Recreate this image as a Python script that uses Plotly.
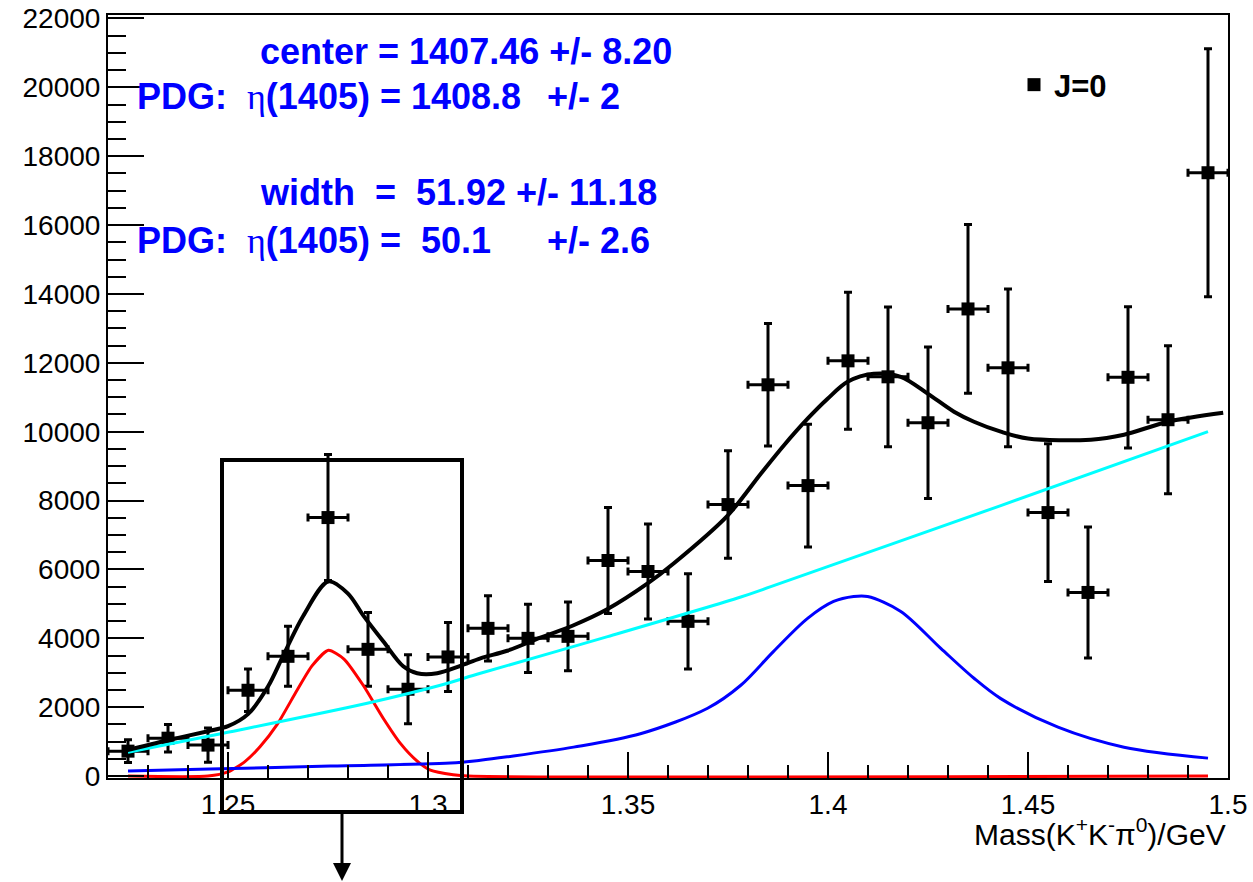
import plotly.graph_objects as go

# ---------------- data ----------------
bin_centers = [1.225, 1.235, 1.245, 1.255, 1.265, 1.275, 1.285, 1.295, 1.305, 1.315,
               1.325, 1.335, 1.345, 1.355, 1.365, 1.375, 1.385, 1.395, 1.405, 1.415,
               1.425, 1.435, 1.445, 1.455, 1.465, 1.475, 1.485, 1.495]
counts = [725, 1101, 900, 2493, 3478, 7507, 3681, 2522, 3460, 4290,
          4000, 4058, 6261, 5942, 4493, 7884, 11362, 8435, 12058, 11594,
          10261, 13565, 11855, 7652, 5333, 11580, 10348, 17520]
count_errors = [330, 400, 500, 620, 870, 1830, 1070, 1000, 1000, 950,
                990, 1000, 1540, 1380, 1380, 1560, 1780, 1780, 1990, 2030,
                2200, 2450, 2290, 2000, 1900, 2050, 2150, 3600]
bin_half_width = [0.005] * len(bin_centers)

total_x = [1.2238, 1.2350, 1.2450, 1.2500, 1.2550, 1.2600, 1.2638, 1.2688, 1.2751, 1.2800,
           1.2838, 1.2888, 1.2938, 1.2973, 1.3023, 1.3081, 1.3131, 1.3198, 1.3281, 1.3364,
           1.3449, 1.3549, 1.3614, 1.3749, 1.3832, 1.3889, 1.3949, 1.3999, 1.4049, 1.4114,
           1.4182, 1.4250, 1.4315, 1.4365, 1.4432, 1.4500, 1.4657, 1.4740, 1.4850, 1.4988]
total_y = [725, 1043, 1304, 1450, 1800, 2600, 3500, 4650, 5652, 5300,
           4667, 3913, 3188, 2986, 2986, 3200, 3420, 3640, 4020, 4380,
           4850, 5594, 6174, 7565, 8780, 9594, 10377, 10957, 11449, 11681,
           11594, 11101, 10580, 10290, 10000, 9800, 9768, 9913, 10290, 10551]

bkg_x = [1.225, 1.2488, 1.2848, 1.3031, 1.3131, 1.3449, 1.3782, 1.3857, 1.4432, 1.495]
bkg_y = [690, 1246, 2116, 2638, 2986, 4050, 5200, 5500, 7855, 10000]

eta_x = [1.225, 1.2455, 1.2756, 1.3056, 1.3131, 1.3198, 1.3364, 1.3531, 1.3699, 1.3782,
         1.3864, 1.3949, 1.4014, 1.4064, 1.4099, 1.4182, 1.4282, 1.4365, 1.4432, 1.4575,
         1.4740, 1.495]
eta_y = [150, 203, 290, 377, 460, 560, 841, 1230, 1971, 2638,
         3623, 4580, 5072, 5217, 5217, 4783, 3710, 2841, 2250, 1420,
         840, 522]

f1285_x = [1.225, 1.2450, 1.2500, 1.2540, 1.2580, 1.2623, 1.2673, 1.2710, 1.2751, 1.2790,
           1.2838, 1.2888, 1.2931, 1.2973, 1.3006, 1.3063, 1.3100, 1.495]
f1285_y = [0, 0, 120, 400, 850, 1500, 2500, 3200, 3652, 3400,
           2638, 1681, 950, 435, 174, 40, 0, 0]

x_range = [1.22, 1.5]
y_range = [-55, 22100]
x_tickvals = [1.25, 1.3, 1.35, 1.4, 1.45, 1.5]
x_ticktext = ["1.25", "1.3", "1.35", "1.4", "1.45", "1.5"]
y_tickvals = list(range(0, 22001, 2000))
y_ticktext = [str(v) for v in y_tickvals]

# ---------------- figure ----------------
FONT = "Liberation Sans, Arial, Helvetica, sans-serif"
fig = go.Figure()

fig.add_trace(go.Scatter(
    x=bin_centers, y=counts, mode="markers", name="<b>J=0</b>",
    marker=dict(symbol="square", size=13, color="black"),
    error_y=dict(type="data", array=count_errors, color="black", thickness=3, width=4),
    error_x=dict(type="data", array=bin_half_width, color="black", thickness=3, width=4),
    showlegend=True,
))

line_kw = dict(shape="spline", smoothing=0.9)
fig.add_trace(go.Scatter(x=f1285_x, y=f1285_y, mode="lines", showlegend=False,
                         line=dict(color="#ff0000", width=3, shape="spline", smoothing=0.6)))
fig.add_trace(go.Scatter(x=eta_x, y=eta_y, mode="lines", showlegend=False,
                         line=dict(color="#0000ff", width=3, **line_kw)))
fig.add_trace(go.Scatter(x=bkg_x, y=bkg_y, mode="lines", showlegend=False,
                         line=dict(color="#00ffff", width=3, **line_kw)))
fig.add_trace(go.Scatter(x=total_x, y=total_y, mode="lines", showlegend=False,
                         line=dict(color="black", width=4, **line_kw)))

L, R, T, B = 108, 25, 15, 104
W, H = 1253, 882
pw, ph = W - L - R, H - T - B


def px(xp):
    return (xp - L) / pw


def py(yp):
    return (H - B - yp) / ph


fig.update_layout(
    width=W, height=H,
    margin=dict(l=L, r=R, t=T, b=B, pad=0, autoexpand=False),
    paper_bgcolor="white", plot_bgcolor="white",
    font=dict(family=FONT, size=28, color="black"),
    showlegend=True,
    legend=dict(x=px(1014), y=py(58), xanchor="left", yanchor="top",
                bgcolor="rgba(0,0,0,0)", font=dict(size=31, family=FONT),
                itemwidth=30, tracegroupgap=0),
    xaxis=dict(range=x_range, tickvals=x_tickvals, ticktext=x_ticktext,
               automargin=False,
               ticks="inside", ticklen=26, tickwidth=2, tickcolor="black",
               showline=True, linewidth=2, linecolor="black", mirror=True,
               showgrid=False, zeroline=False,
               tickfont=dict(size=28, family=FONT),
               minor=dict(dtick=0.01, tick0=1.22, ticks="inside", ticklen=13,
                          tickwidth=2, tickcolor="black", showgrid=False)),
    yaxis=dict(range=y_range, tickvals=y_tickvals, ticktext=y_ticktext,
               automargin=False,
               ticks="inside", ticklen=36, tickwidth=2, tickcolor="black",
               showline=True, linewidth=2, linecolor="black", mirror=True,
               showgrid=False, zeroline=False,
               tickfont=dict(size=28, family=FONT),
               minor=dict(dtick=500, tick0=0, ticks="inside", ticklen=18,
                          tickwidth=2, tickcolor="black", showgrid=False)),
)

BLUE = "#0000ff"
eta = "<span style=\"font-family:'Liberation Serif','Times New Roman',serif;font-weight:normal\">η</span>"
texts = [
    ("center = 1407.46 +/- 8.20", 258, 52),
    ("PDG:  " + eta + "(1405) = 1408.8", 135, 97),
    ("+/- 2", 545, 97),
    ("width  =  51.92 +/- 11.18", 258, 192),
    ("PDG:  " + eta + "(1405) =  50.1", 135, 240),
    ("+/- 2.6", 545, 240),
]
for t, xx, yy in texts:
    fig.add_annotation(text="<b>" + t + "</b>", xref="paper", yref="paper",
                       x=px(xx), y=py(yy), xanchor="left", yanchor="middle",
                       showarrow=False,
                       font=dict(size=36, color=BLUE, family=FONT))

# x-axis title
fig.add_annotation(text="Mass(K<sup>+</sup>K<sup>-</sup>π<sup>0</sup>)/GeV",
                   xref="paper", yref="paper", x=1.0, y=py(832),
                   xanchor="right", yanchor="middle", showarrow=False,
                   font=dict(size=30, family=FONT, color="black"))

# highlight box and arrow
fig.add_shape(type="rect", xref="paper", yref="paper",
              x0=px(222), x1=px(462), y0=py(812), y1=py(460),
              line=dict(color="black", width=4), fillcolor="rgba(0,0,0,0)")
fig.add_annotation(text="", xref="paper", yref="paper", x=px(342), y=py(884),
                   ax=0, ay=-72, showarrow=True, arrowhead=2, arrowsize=1.2,
                   arrowwidth=3, arrowcolor="black")

fig.write_html("out.html", config={"displayModeBar": False},
               post_script="document.body.style.margin='0px';document.body.style.overflow='hidden';")
